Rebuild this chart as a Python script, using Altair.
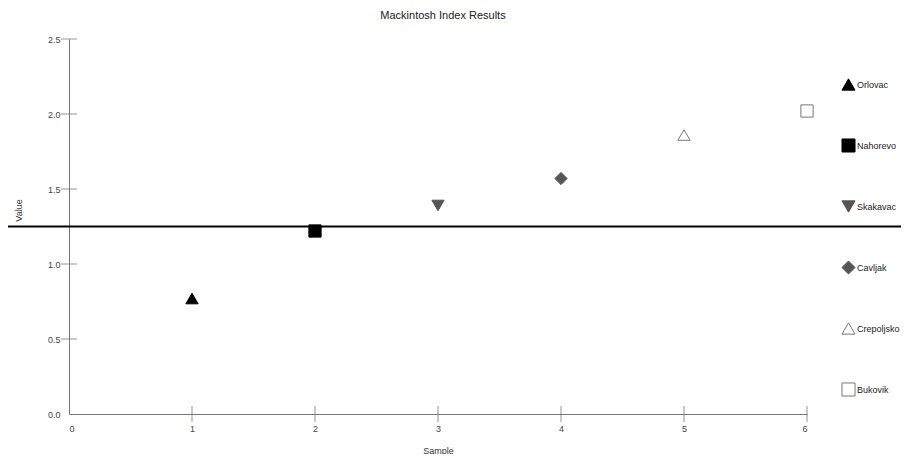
import altair as alt
import pandas as pd

sites = ["Orlovac", "Nahorevo", "Skakavac", "Cavljak", "Crepoljsko", "Bukovik"]
samples = [1, 2, 3, 4, 5, 6]
values = [0.77, 1.22, 1.39, 1.57, 1.86, 2.02]
shapes = ["triangle-up", "square", "triangle-down", "diamond", "triangle-up", "square"]
fills = ["#000000", "#000000", "#555555", "#555555", "#ffffff", "#ffffff"]
strokes = ["#000000", "#000000", "#555555", "#555555", "#777777", "#777777"]
threshold = [1.25]
x_ticks = [1, 2, 3, 4, 5, 6]
y_ticks = [0.5, 1.0, 1.5, 2.0, 2.5]

df = pd.DataFrame({"Site": sites, "Sample": samples, "Value": values})
thr = pd.DataFrame({"t": threshold})
xt = pd.DataFrame({"xt": x_ticks})
yt = pd.DataFrame({"yt": y_ticks})

W, H = 738, 375
FONT = "Liberation Sans"

xscale = alt.Scale(domain=[0, 6], nice=False, zero=True)
yscale = alt.Scale(domain=[0, 2.5], nice=False, zero=True)

leg = alt.Legend(title=None, orient="none", legendX=772, legendY=38,
                 symbolSize=170, labelFontSize=9, labelColor="#222222",
                 labelFont=FONT, labelOffset=1, rowPadding=43,
                 symbolStrokeWidth=1, padding=0)

points = alt.Chart(df).mark_point(filled=True, size=150, strokeWidth=1, opacity=1).encode(
    x=alt.X("Sample:Q", scale=xscale,
            axis=alt.Axis(values=[0, 1, 2, 3, 4, 5, 6], format="d", ticks=False, tickSize=0,
                          labelPadding=10, grid=False, title="Sample", titlePadding=13)),
    y=alt.Y("Value:Q", scale=yscale,
            axis=alt.Axis(values=[0, 0.5, 1.0, 1.5, 2.0, 2.5], format=".1f", ticks=False,
                          tickSize=0, labelPadding=9, grid=False, title="Value",
                          titlePadding=24, titleY=171)),
    shape=alt.Shape("Site:N", scale=alt.Scale(domain=sites, range=shapes), legend=leg),
    fill=alt.Fill("Site:N", scale=alt.Scale(domain=sites, range=fills), legend=leg),
    stroke=alt.Stroke("Site:N", scale=alt.Scale(domain=sites, range=strokes), legend=leg),
)

xtick = alt.Chart(xt).mark_tick(orient="vertical", size=16, thickness=1, color="#666666").encode(
    x=alt.X("xt:Q", scale=xscale),
    y=alt.datum(0),
)
ytick = alt.Chart(yt).mark_tick(orient="horizontal", size=16, thickness=1, color="#666666").encode(
    y=alt.Y("yt:Q", scale=yscale),
    x=alt.datum(0),
)

rule = alt.Chart(thr).mark_rule(color="#000000", strokeWidth=2).encode(
    y=alt.Y("t:Q", scale=yscale),
    x=alt.value(-61),
    x2=alt.value(840),
)

chart = alt.layer(xtick, ytick, points, rule).properties(
    width=W, height=H,
    title=alt.TitleParams("Mackintosh Index Results", fontSize=11, fontWeight="normal",
                          color="#222222", font=FONT, offset=14, dx=5),
    autosize=alt.AutoSizeParams(type="none"),
    padding={"left": 61, "top": 31, "right": 94, "bottom": 40},
).configure_view(stroke=None).configure_axis(
    domainColor="#777777", domainWidth=1, labelColor="#444444", labelFontSize=9,
    labelFont=FONT, titleFont=FONT, titleFontSize=9, titleFontWeight="normal",
    titleColor="#333333",
)

chart.save("out.html", embed_options={"renderer": "svg", "actions": False})
